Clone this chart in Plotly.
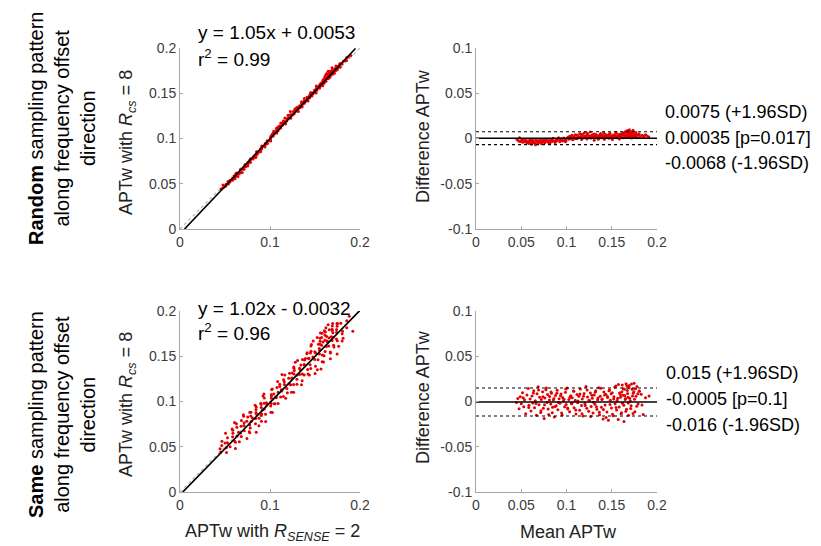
import plotly.graph_objs as go

# Bland-Altman data (mean, difference), per sampling pattern
rand_mean = [
    0.0452, 0.0468, 0.0481, 0.0495, 0.0503, 0.0517, 0.0529, 0.0538, 0.0552, 0.0561,
    0.0574, 0.0583, 0.0596, 0.0604, 0.0612, 0.0625, 0.0633, 0.0641, 0.0657, 0.0662,
    0.0678, 0.0685, 0.0693, 0.0709, 0.0716, 0.0724, 0.0738, 0.0745, 0.0759, 0.0766,
    0.0781, 0.0793, 0.0806, 0.0818, 0.0827, 0.0839, 0.0852, 0.0861, 0.0874, 0.0889,
    0.0897, 0.0912, 0.0925, 0.0938, 0.0946, 0.0958, 0.0971, 0.0983, 0.0995, 0.1008,
    0.1016, 0.1029, 0.1037, 0.1049, 0.1061, 0.1068, 0.1082, 0.1093, 0.1104, 0.1117,
    0.1125, 0.1138, 0.1146, 0.1159, 0.1167, 0.1174, 0.1189, 0.1196, 0.1208, 0.1213,
    0.1226, 0.1234, 0.1241, 0.1253, 0.1262, 0.1271, 0.1285, 0.1293, 0.1306, 0.1314,
    0.1322, 0.1337, 0.1345, 0.1356, 0.1364, 0.1378, 0.1386, 0.1397, 0.1405, 0.1418,
    0.1426, 0.1433, 0.1447, 0.1455, 0.1468, 0.1474, 0.1486, 0.1495, 0.1507, 0.1514,
    0.1526, 0.1533, 0.1545, 0.1553, 0.1562, 0.1571, 0.1584, 0.1592, 0.1603, 0.1611,
    0.1618, 0.1627, 0.1636, 0.1644, 0.1652, 0.1659, 0.1664, 0.1671, 0.1677, 0.1683,
    0.1689, 0.1694, 0.1701, 0.1707, 0.1712, 0.1718, 0.1724, 0.1731, 0.1738, 0.1745,
    0.1753, 0.1762, 0.1771, 0.1784, 0.1796, 0.1812, 0.1835, 0.1857, 0.1886, 0.1908,
    0.0486, 0.0545, 0.0588, 0.0619, 0.0651, 0.0689, 0.0731, 0.0772, 0.0812, 0.0846,
    0.0881, 0.0918, 0.0952, 0.0989, 0.1022, 0.1055, 0.1088, 0.1111, 0.1142, 0.1171,
    0.1201, 0.1229, 0.1258, 0.1279, 0.1301, 0.1329, 0.1351, 0.1372, 0.1392, 0.1412,
    0.1441, 0.1462, 0.1481, 0.1502, 0.1521, 0.1548, 0.1567, 0.1588, 0.1607, 0.1623,
    0.1639, 0.1648, 0.1656, 0.1668, 0.1674, 0.1686, 0.1692, 0.1698, 0.1704, 0.1716,
    0.1721, 0.1728, 0.1735, 0.1749, 0.1758, 0.1767, 0.1779, 0.1803, 0.1846, 0.1872]
rand_diff = [
    -0.0012, -0.0025, 0.0008, -0.0031, -0.0018, -0.0042, -0.0009, -0.0035, -0.0021, -0.0047,
    -0.0028, -0.0056, -0.0014, -0.0039, -0.0062, -0.0023, -0.0048, -0.0031, -0.0068, -0.0015,
    -0.0037, -0.0052, -0.0026, -0.0041, -0.0011, -0.0058, -0.0033, -0.0019, -0.0046, -0.0029,
    -0.0007, -0.0038, -0.0024, -0.0051, -0.0016, -0.0034, 0.0004, -0.0027, -0.0043, -0.0012,
    -0.0021, 0.0009, -0.0036, -0.0017, -0.0002, -0.0029, 0.0006, -0.0013, -0.0024, 0.0003,
    0.0011, -0.0008, 0.0024, 0.0003, 0.0037, -0.0015, 0.0019, 0.0042, 0.0007, -0.0004,
    0.0031, 0.0014, 0.0052, 0.0022, -0.0012, 0.0035, 0.0009, 0.0061, 0.0018, 0.0027,
    -0.0006, 0.0044, 0.0013, 0.0029, 0.0071, 0.0005, 0.0038, 0.0016, -0.0018, 0.0025,
    0.0047, 0.0011, 0.0033, 0.0002, 0.0021, 0.0056, 0.0008, 0.0036, 0.0015, -0.0009,
    0.0028, 0.0043, 0.0012, 0.0031, 0.0004, 0.0049, 0.0019, 0.0026, -0.0011, 0.0039,
    0.0014, 0.0033, 0.0058, 0.0007, 0.0024, 0.0041, -0.0005, 0.0029, 0.0017, 0.0052,
    0.0036, 0.0009, 0.0045, 0.0068, 0.0021, 0.0032, 0.0084, 0.0013, 0.0055, 0.0027,
    0.0039, 0.0096, 0.0018, 0.0048, 0.0062, 0.0006, 0.0034, 0.0075, 0.0023, 0.0041,
    0.0015, 0.0053, 0.0029, 0.0008, 0.0044, 0.0021, 0.0037, 0.0012, 0.0031, 0.0018,
    -0.0033, -0.0019, -0.0044, -0.0008, -0.0051, -0.0027, -0.0039, -0.0013, -0.0046, -0.0022,
    -0.0031, -0.0005, -0.0018, -0.0035, 0.0016, 0.0028, -0.0003, 0.0039, 0.0011, 0.0046,
    0.0021, 0.0057, 0.0008, 0.0034, 0.0049, 0.0017, -0.0007, 0.0043, 0.0026, 0.0061,
    0.0012, 0.0038, 0.0054, 0.0019, 0.0031, 0.0065, 0.0023, 0.0047, 0.0011, 0.0058,
    0.0035, 0.0072, 0.0016, 0.0049, 0.0087, 0.0028, 0.0063, 0.0041, 0.0079, 0.0019,
    0.0052, 0.0033, 0.0091, 0.0045, 0.0025, 0.0067, 0.0038, 0.0051, 0.0029, 0.0042]

same_mean = [
    0.0448, 0.0462, 0.0476, 0.0489, 0.0501, 0.0514, 0.0528, 0.0536, 0.0549, 0.0563,
    0.0577, 0.0585, 0.0598, 0.0607, 0.0619, 0.0626, 0.0638, 0.0647, 0.0655, 0.0668,
    0.0674, 0.0687, 0.0696, 0.0703, 0.0715, 0.0722, 0.0736, 0.0744, 0.0753, 0.0761,
    0.0772, 0.0785, 0.0791, 0.0804, 0.0813, 0.0826, 0.0834, 0.0847, 0.0855, 0.0866,
    0.0878, 0.0886, 0.0897, 0.0905, 0.0918, 0.0927, 0.0939, 0.0946, 0.0958, 0.0967,
    0.0979, 0.0988, 0.0996, 0.1007, 0.1015, 0.1026, 0.1034, 0.1047, 0.1055, 0.1063,
    0.1076, 0.1084, 0.1097, 0.1105, 0.1116, 0.1124, 0.1137, 0.1145, 0.1153, 0.1166,
    0.1174, 0.1182, 0.1195, 0.1203, 0.1216, 0.1224, 0.1232, 0.1245, 0.1253, 0.1264,
    0.1272, 0.1285, 0.1293, 0.1306, 0.1314, 0.1323, 0.1336, 0.1344, 0.1357, 0.1365,
    0.1373, 0.1386, 0.1394, 0.1405, 0.1413, 0.1426, 0.1434, 0.1447, 0.1455, 0.1463,
    0.1476, 0.1484, 0.1497, 0.1505, 0.1516, 0.1524, 0.1537, 0.1545, 0.1553, 0.1566,
    0.1574, 0.1582, 0.1595, 0.1603, 0.1612, 0.1618, 0.1627, 0.1635, 0.1644, 0.1651,
    0.1658, 0.1664, 0.1672, 0.1679, 0.1686, 0.1693, 0.1705, 0.1714, 0.1726, 0.1738,
    0.1747, 0.1756, 0.1768, 0.1779, 0.1791, 0.1806, 0.1825, 0.1848, 0.1873, 0.1912,
    0.0521, 0.0583, 0.0634, 0.0662, 0.0691, 0.0718, 0.0739, 0.0757, 0.0778, 0.0797,
    0.0811, 0.0829, 0.0843, 0.0861, 0.0874, 0.0893, 0.0912, 0.0934, 0.0952, 0.0973,
    0.0992, 0.1012, 0.1038, 0.1059, 0.1081, 0.1102, 0.1128, 0.1149, 0.1171, 0.1188,
    0.1207, 0.1228, 0.1249, 0.1267, 0.1281, 0.1298, 0.1317, 0.1331, 0.1348, 0.1362,
    0.1379, 0.1391, 0.1408, 0.1421, 0.1438, 0.1452, 0.1469, 0.1481, 0.1493, 0.1509,
    0.1521, 0.1534, 0.1548, 0.1559, 0.1571, 0.1586, 0.1597, 0.1608, 0.1616, 0.1624,
    0.1633, 0.1641, 0.1649, 0.1656, 0.1667, 0.1675, 0.1683, 0.1691, 0.1698, 0.1709,
    0.1718, 0.1729, 0.1735, 0.1744, 0.1752, 0.1763, 0.1776, 0.1788, 0.1802, 0.1834]
same_diff = [
    -0.0012, 0.0034, -0.0081, 0.0052, -0.0025, 0.0096, -0.0058, 0.0018, -0.0134, 0.0071,
    0.0143, -0.0042, 0.0027, -0.0105, 0.0062, -0.0017, 0.0118, -0.0069, 0.0009, -0.0152,
    0.0085, 0.0162, -0.0036, 0.0048, -0.0121, 0.0023, 0.0107, -0.0074, -0.0188, 0.0039,
    0.0131, -0.0012, 0.0076, -0.0145, 0.0054, -0.0028, 0.0092, -0.0063, 0.0016, -0.0172,
    0.0067, -0.0046, 0.0124, -0.0091, 0.0031, -0.0019, 0.0083, -0.0127, 0.0045, 0.0008,
    -0.0057, 0.0102, -0.0034, 0.0149, -0.0082, 0.0021, -0.0113, 0.0063, -0.0026, 0.0041,
    0.0115, -0.0068, 0.0013, -0.0139, 0.0078, -0.0015, 0.0057, -0.0096, 0.0137, -0.0043,
    0.0029, -0.0161, 0.0088, -0.0022, 0.0165, -0.0075, 0.0049, -0.0108, 0.0011, 0.0094,
    -0.0054, 0.0036, -0.0128, 0.0072, -0.0031, 0.0119, -0.0087, 0.0018, 0.0153, -0.0146,
    0.0059, -0.0064, 0.0027, -0.0192, 0.0104, -0.0039, 0.0081, -0.0117, 0.0043, -0.0208,
    0.0126, 0.0014, -0.0073, 0.0098, -0.0158, 0.0052, -0.0024, 0.0171, -0.0095, 0.0037,
    0.0188, -0.0061, 0.0076, -0.0136, 0.0109, -0.0018, 0.0142, -0.0221, 0.0065, 0.0033,
    0.0197, -0.0085, 0.0121, 0.0046, -0.0153, 0.0178, 0.0008, -0.0047, 0.0134, 0.0091,
    0.0203, -0.0112, 0.0057, 0.0166, -0.0029, 0.0112, 0.0079, -0.0145, 0.0041, 0.0062,
    0.0041, -0.0067, 0.0095, -0.0021, 0.0128, -0.0102, 0.0052, -0.0035, 0.0149, -0.0083,
    0.0017, 0.0106, -0.0124, 0.0033, -0.0056, 0.0091, -0.0011, 0.0064, -0.0148, 0.0025,
    0.0138, -0.0071, 0.0046, -0.0019, 0.0112, -0.0093, 0.0006, 0.0082, -0.0135, 0.0058,
    -0.0044, 0.0127, 0.0015, -0.0166, 0.0069, -0.0008, 0.0101, -0.0057, 0.0038, -0.0119,
    0.0146, 0.0022, -0.0089, 0.0073, -0.0177, 0.0054, 0.0118, -0.0032, 0.0087, -0.0141,
    0.0029, 0.0159, -0.0066, 0.0012, -0.0199, 0.0095, 0.0047, -0.0124, 0.0183, 0.0068,
    -0.0041, 0.0135, 0.0021, -0.0109, 0.0174, 0.0089, -0.0016, 0.0152, 0.0037, -0.0078,
    0.0194, 0.0061, -0.0133, 0.0108, 0.0026, 0.0141, -0.0052, 0.0085, 0.0117, -0.0038]

# fit lines as drawn (slope, intercept, x start, x end)
rand_fit = [1.05, -0.0053, 0.005, 0.195]
same_fit = [1.02, -0.0032, 0.003, 0.2]
rand_eq = ['y = 1.05x + 0.0053', 'r<sup>2</sup> = 0.99']
same_eq = ['y = 1.02x - 0.0032', 'r<sup>2</sup> = 0.96']

# bland-altman limits: upper, mean, lower
rand_ba = [0.0075, 0.00035, -0.0068]
same_ba = [0.015, -0.0005, -0.016]
rand_ba_txt = ['0.0075 (+1.96SD)', '0.00035 [p=0.017]', '-0.0068 (-1.96SD)']
same_ba_txt = ['0.015 (+1.96SD)', '-0.0005 [p=0.1]', '-0.016 (-1.96SD)']

# page body keeps an 8px margin, so the figure is drawn 8px in from the corner
OFF = 8
W, H = 821 - OFF, 546 - OFF
RED = 'rgb(228,0,0)'
AX = '#a6a6a6'
TXT = '#3c3c3c'
FONT = 'Liberation Sans, Arial, sans-serif'

fig = go.Figure()


def px(x):
    return (x - OFF) / W


def py(y):
    return 1 - (y - OFF) / H


def add_panel(row, mean, diff, fit, ba):
    # scatter panel (axes n) and BA panel (axes n+1)
    n_sc = 2 * row + 1
    n_ba = 2 * row + 2
    xs = [m - d / 2 for m, d in zip(mean, diff)]
    ys = [m + d / 2 for m, d in zip(mean, diff)]
    sfx_sc = '' if n_sc == 1 else str(n_sc)
    sfx_ba = str(n_ba)

    fig.add_trace(go.Scatter(x=[0, 0.2], y=[0, 0.2], mode='lines',
                             line=dict(color='#b5b5b5', width=1.2, dash='dot'),
                             xaxis='x' + sfx_sc, yaxis='y' + sfx_sc, showlegend=False))
    fig.add_trace(go.Scatter(x=xs, y=ys, mode='markers',
                             marker=dict(color=RED, size=3),
                             xaxis='x' + sfx_sc, yaxis='y' + sfx_sc, showlegend=False))
    fx = [fit[2], fit[3]]
    fig.add_trace(go.Scatter(x=fx, y=[fit[0] * v + fit[1] for v in fx], mode='lines',
                             line=dict(color='black', width=1.6),
                             xaxis='x' + sfx_sc, yaxis='y' + sfx_sc, showlegend=False))

    fig.add_trace(go.Scatter(x=mean, y=diff, mode='markers',
                             marker=dict(color=RED, size=3),
                             xaxis='x' + sfx_ba, yaxis='y' + sfx_ba, showlegend=False))
    for i, v in enumerate(ba):
        fig.add_trace(go.Scatter(x=[0, 0.2], y=[v, v], mode='lines',
                                 line=dict(color='black', width=1.4 if i == 1 else 1.1,
                                           dash='solid' if i == 1 else 'dot'),
                                 xaxis='x' + sfx_ba, yaxis='y' + sfx_ba, showlegend=False))


add_panel(0, rand_mean, rand_diff, rand_fit, rand_ba)
add_panel(1, same_mean, same_diff, same_fit, same_ba)

axis_common = dict(showline=True, linecolor=AX, linewidth=1, showgrid=False, zeroline=False,
                   ticks='inside', ticklen=3, tickcolor=AX, automargin=False,
                   tickfont=dict(family=FONT, size=14, color=TXT))

sc_x = dict(range=[0, 0.2], tickvals=[0, 0.1, 0.2], ticktext=['0', '0.1', '0.2'], **axis_common)
sc_y = dict(range=[0, 0.2], tickvals=[0, 0.05, 0.1, 0.15, 0.2],
            ticktext=['0', '0.05', '0.1', '0.15', '0.2'], **axis_common)
ba_x = dict(range=[0, 0.2], tickvals=[0, 0.05, 0.1, 0.15, 0.2],
            ticktext=['0', '0.05', '0.1', '0.15', '0.2'], **axis_common)
ba_y = dict(range=[-0.1, 0.1], tickvals=[-0.1, -0.05, 0, 0.05, 0.1],
            ticktext=['-0.1', '-0.05', '0', '0.05', '0.1'], **axis_common)

top_y = [py(229), py(48)]
bot_y = [py(492), py(311)]
left_x = [px(180), px(360)]
right_x = [px(476), px(657)]

fig.update_layout(
    width=W, height=H, margin=dict(l=0, r=0, t=0, b=0, pad=0, autoexpand=False),
    paper_bgcolor='white', plot_bgcolor='white',
    xaxis=dict(domain=left_x, anchor='y', **sc_x),
    yaxis=dict(domain=top_y, anchor='x', **sc_y),
    xaxis2=dict(domain=right_x, anchor='y2', **ba_x),
    yaxis2=dict(domain=top_y, anchor='x2', **ba_y),
    xaxis3=dict(domain=left_x, anchor='y3', **sc_x),
    yaxis3=dict(domain=bot_y, anchor='x3', **sc_y),
    xaxis4=dict(domain=right_x, anchor='y4', **ba_x),
    yaxis4=dict(domain=bot_y, anchor='x4', **ba_y),
)

ann = []


def note(text, x, y, size=19, angle=0, xanchor='left', color='black'):
    ann.append(dict(text=text, x=px(x), y=py(y), xref='paper', yref='paper',
                    xanchor=xanchor, yanchor='middle', showarrow=False, textangle=angle,
                    font=dict(family=FONT, size=size, color=color)))


# row labels
note('<b>Random</b> sampling pattern<br>along frequency offset<br>direction', 62, 129, size=20, angle=-90, xanchor='center')
note('<b>Same</b> sampling pattern<br>along frequency offset<br>direction', 62, 415, size=20, angle=-90, xanchor='center')

# axis titles
note('APTw with <i>R<sub>cs</sub></i> = 8', 127, 142, size=18, angle=-90, xanchor='center', color='#222')
note('APTw with <i>R<sub>cs</sub></i> = 8', 127, 404, size=18, angle=-90, xanchor='center', color='#222')
note('Difference APTw', 423, 136, size=18, angle=-90, xanchor='center', color='#222')
note('Difference APTw', 423, 397, size=18, angle=-90, xanchor='center', color='#222')
note('APTw with <i>R<sub>SENSE</sub></i> = 2', 272, 532, size=18, xanchor='center', color='#222')
note('Mean APTw', 568, 532, size=18, xanchor='center', color='#222')

# fit equations
for i, t in enumerate(rand_eq):
    note(t, 196, 33 + 25 * i)
for i, t in enumerate(same_eq):
    note(t, 196, 308 + 24 * i)

# bland-altman values
for i, t in enumerate(rand_ba_txt):
    note(t, 663, 112 + 25.5 * i, size=18)
for i, t in enumerate(same_ba_txt):
    note(t, 664, 373 + 26 * i, size=18)

fig.update_layout(annotations=ann)

fig.write_html("out.html")
